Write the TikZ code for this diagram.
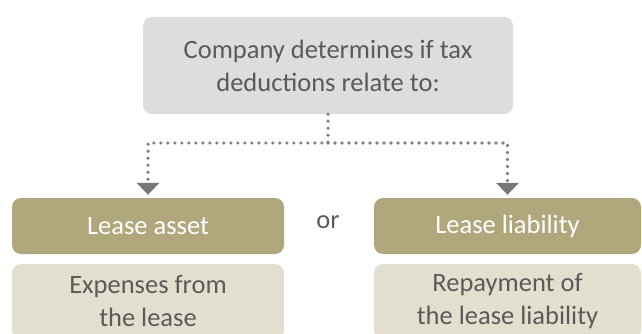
\documentclass[tikz,border=0pt]{standalone}
\usepackage{fontspec}
\setmainfont{Carlito}
\usetikzlibrary{arrows.meta,%
                positioning}

\definecolor{topgray}{HTML}{DCDDDF}
\definecolor{olive}{HTML}{B0A87C}
\definecolor{sand}{HTML}{E3DFCF}
\definecolor{txtgray}{HTML}{5A5A5A}
\definecolor{dotgray}{HTML}{808083}
\definecolor{tipgray}{HTML}{77787B}

\begin{document}
\begin{tikzpicture}[x=1pt,y=-1pt,
    box/.style={rounded corners=9pt,inner sep=0pt,align=center,
      font=\fontsize{26.5}{33}\selectfont},
    askbox/.style={box,fill=topgray,text=txtgray,
      minimum width=370pt,minimum height=97pt},
    sidebox/.style={box,fill=olive,text=white,
      minimum width=272pt,minimum height=56pt},
    notebox/.style={box,fill=sand,text=txtgray,
      minimum width=272pt,minimum height=75pt},
    dots/.style={draw=dotgray,line width=3.6pt,line cap=round,
      dash pattern=on 0pt off 7pt,shorten >=3pt,
      -{Triangle[width=23pt,length=12pt,color=tipgray,fill=tipgray,line width=0pt]}}]

      \useasboundingbox (0,0) rectangle (642,334);

      \node[askbox] (comp) at (328,65.5) {Company determines if tax\\deductions relate to:};

      \node[sidebox] (asset) at (148,226) {Lease asset};
      \node[sidebox,minimum width=267pt] (liab) at (507.5,226) {Lease liability};
      \node[text=txtgray,font=\fontsize{26.5}{33}\selectfont] (or) at (328,222) {or};

      \node[notebox] (assetnote) at (148,301.5) {Expenses from\\the lease};
      \node[notebox,minimum width=267pt] (liabnote) at (507.5,301.5) {Repayment of\\the lease liability};

      \coordinate (split) at (328,143);
      \draw[dots] (comp.south) -- (split) -| (asset.north);
      \draw[dots] (split) -| (liab.north);
\end{tikzpicture}
\end{document}
